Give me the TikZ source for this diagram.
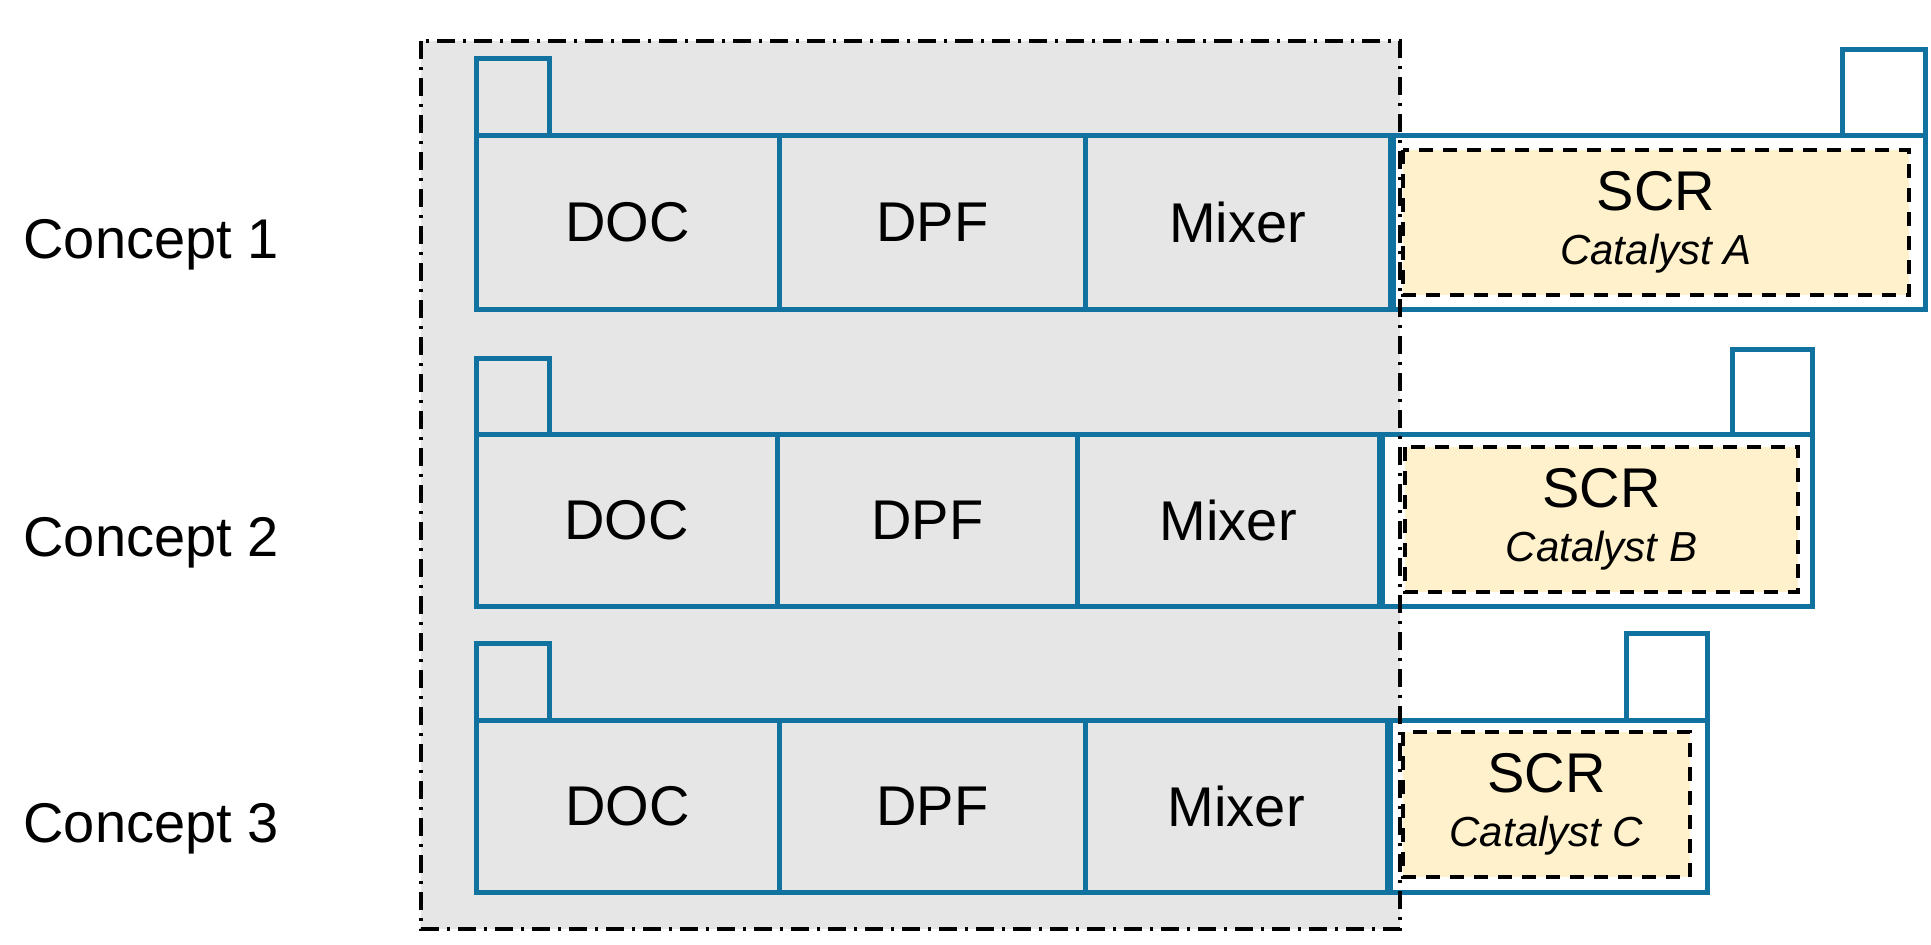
\documentclass[tikz,border=0pt]{standalone}
\usepackage{fontspec}
\setmainfont{Liberation Sans}
\definecolor{pipe}{HTML}{1172A0}
\definecolor{bg}{HTML}{E6E6E6}
\definecolor{cat}{HTML}{FFF1CC}
\begin{document}
\begin{tikzpicture}[x=1pt,y=-1pt,
  cell/.style={draw=pipe,line width=4.5pt,inner sep=0pt},
  lbl/.style={font=\fontsize{56}{60}\selectfont},
  scr/.style={draw=black,line width=4pt,dash pattern=on 14pt off 10pt,fill=cat},
  scrcap/.style={font=\fontsize{56}{60}\selectfont,align=center}]
\useasboundingbox (0,0) rectangle (1931,945);
\fill[bg] (421,41) rectangle (1400,929);
\foreach \r/\ta/\tb/\bo/\xa/\xb/\xc/\xd/\xe/\rx/\ry/\da/\db/\dc/\dd/\L [count=\i] in
 {1/56/133/307/474/777/1083/1388/1923/1840/47/1403/150/1909/295/A,
  2/356/432/604/474/775/1075/1377/1810/1730/347/1405/447/1798/592/B,
  3/641/718/890/474/777/1083/1385/1705/1624/631/1403/732/1690/877/C}{
  \node[cell,fill=white,minimum width=\xe-\xd,minimum height=\bo-\tb,anchor=north west] (o\i) at (\xd,\tb) {};
  \node[cell,minimum width=\xe-\rx,minimum height=\tb-\ry,anchor=north west,fill=white] (rt\i) at (\rx,\ry) {};
  \node[cell,minimum width=73,minimum height=\tb-\ta,anchor=north west] (lt\i) at (474,\ta) {};
  \node[cell,minimum width=\xb-\xa,minimum height=\bo-\tb,anchor=north west,lbl] (doc\i) at (\xa,\tb) {DOC};
  \node[cell,minimum width=\xc-\xb,minimum height=\bo-\tb,anchor=north west,lbl] (dpf\i) at (\xb,\tb) {DPF};
  \node[cell,minimum width=\xd-\xc,minimum height=\bo-\tb,anchor=north west,lbl] (mix\i) at (\xc,\tb) {Mixer};
  \draw[pipe,line width=7pt] (mix\i.north east) -- (mix\i.south east);
  \draw[scr] (\da,\db) rectangle (\dc,\dd);
  \node[scrcap] (scr\i) at ({(\da+\dc)/2},{(\db+\dd)/2}) {SCR\\[-6pt]{\fontsize{42}{46}\selectfont\itshape Catalyst \L}};
  \node[lbl,anchor=west] (c\i) at (20,{(\tb+\bo)/2+25}) {Concept \i};
}
\draw[line width=3.5pt,dash pattern=on 18pt off 8pt on 3pt off 8pt] (421,41) rectangle (1400,929);
\end{tikzpicture}
\end{document}
